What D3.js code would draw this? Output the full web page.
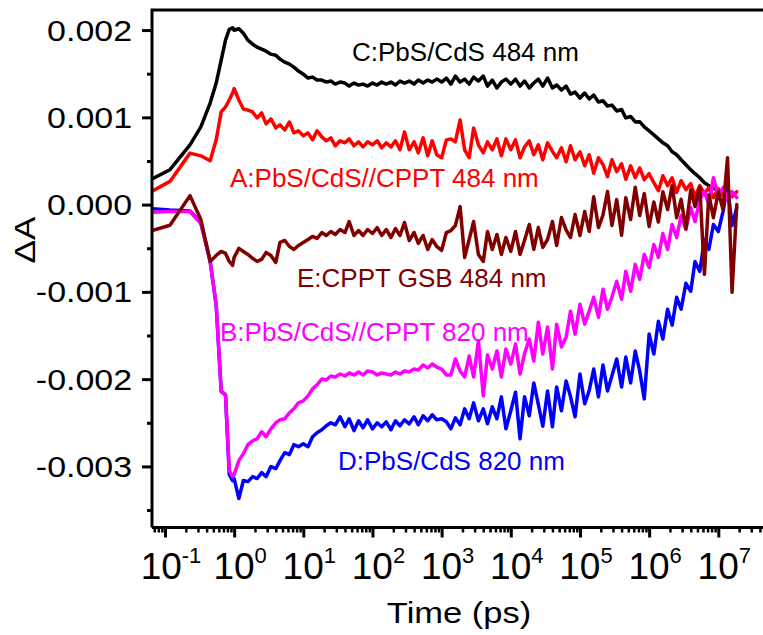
<!DOCTYPE html>
<html><head><meta charset="utf-8">
<script src="https://cdn.jsdelivr.net/npm/d3@7/dist/d3.min.js"></script>
<style>
html,body{margin:0;padding:0;background:#fff;}
svg{display:block;font-family:"Liberation Sans",Arial,sans-serif;}
</style></head>
<body>
<svg id="chart" width="763" height="635"></svg>
<script>
// Time axis (ps)
const times = [0.065,0.118,0.23,0.33,0.45,0.55,0.65,0.75,0.85,0.95,
1,1.17,1.36,1.58,1.85,2.15,2.5,2.9,3.4,4,4.6,5.4,6.3,7.3,8.5,
10,11.7,13.6,15.8,18.5,21.5,25,29,34,40,46,54,63,73,85,
100,117,136,158,185,215,250,290,340,400,460,540,630,730,850,
1000,1170,1360,1580,1850,2150,2500,2900,3400,4000,4600,5400,6300,7300,8500,
1e4,1.17e4,1.36e4,1.58e4,1.85e4,2.15e4,2.5e4,2.9e4,3.4e4,4e4,4.6e4,5.4e4,6.3e4,7.3e4,8.5e4,
1e5,1.17e5,1.36e5,1.58e5,1.85e5,2.15e5,2.5e5,2.9e5,3.4e5,4e5,4.6e5,5.4e5,6.3e5,7.3e5,8.5e5,
1e6,1.17e6,1.36e6,1.58e6,1.85e6,2.15e6,2.5e6,2.9e6,3.4e6,4e6,4.6e6,5.4e6,6.3e6,7.3e6,8.5e6,
1e7,1.17e7,1.36e7,1.58e7,1.85e7];

// C: PbS/CdS 484 nm
const seriesC = [2.93e-4,4.00e-4,6.85e-4,8.90e-4,11.64e-4,13.93e-4,16.55e-4,18.84e-4,20.09e-4,20.26e-4,
19.98e-4,20.15e-4,19.63e-4,18.84e-4,18.38e-4,18.04e-4,17.81e-4,17.58e-4,17.24e-4,17.12e-4,16.67e-4,16.32e-4,16.10e-4,15.75e-4,15.30e-4,
14.95e-4,14.50e-4,14.61e-4,14.27e-4,14.27e-4,14.04e-4,14.16e-4,13.81e-4,14.04e-4,13.93e-4,13.58e-4,13.93e-4,13.70e-4,13.81e-4,13.58e-4,
13.93e-4,13.70e-4,14.04e-4,13.81e-4,14.04e-4,13.70e-4,14.16e-4,13.93e-4,14.16e-4,13.81e-4,14.27e-4,13.93e-4,14.27e-4,14.04e-4,14.38e-4,
14.04e-4,14.50e-4,13.81e-4,14.73e-4,14.04e-4,14.38e-4,13.81e-4,14.61e-4,14.16e-4,14.73e-4,13.58e-4,14.27e-4,13.36e-4,14.04e-4,14.38e-4,
13.81e-4,14.38e-4,13.58e-4,14.16e-4,13.36e-4,13.93e-4,14.38e-4,13.58e-4,14.50e-4,13.36e-4,13.70e-4,13.13e-4,13.58e-4,12.67e-4,12.90e-4,
12.21e-4,12.79e-4,12.10e-4,12.56e-4,11.76e-4,11.90e-4,11.30e-4,11.40e-4,10.73e-4,10.90e-4,9.93e-4,10.10e-4,9.47e-4,9.50e-4,8.90e-4,
8.45e-4,7.99e-4,7.53e-4,7.08e-4,6.74e-4,6.05e-4,5.71e-4,5.14e-4,4.57e-4,4.00e-4,3.54e-4,3.08e-4,2.51e-4,2.17e-4,1.83e-4,
1.71e-4,null,null,null,null];

// A: PbS/CdS//CPPT 484 nm
const seriesA = [1.52e-4,2.66e-4,5.90e-4,5.59e-4,5.02e-4,7.42e-4,10.62e-4,11.19e-4,11.99e-4,12.79e-4,
13.30e-4,11.99e-4,10.96e-4,10.84e-4,10.62e-4,9.93e-4,10.50e-4,9.25e-4,9.82e-4,8.79e-4,9.13e-4,8.56e-4,9.47e-4,8.22e-4,8.45e-4,
7.88e-4,8.22e-4,7.42e-4,8.45e-4,7.76e-4,7.31e-4,7.65e-4,6.74e-4,7.31e-4,7.08e-4,7.53e-4,6.74e-4,7.19e-4,6.62e-4,7.19e-4,
6.85e-4,7.31e-4,6.51e-4,7.08e-4,6.62e-4,7.31e-4,6.28e-4,8.33e-4,6.28e-4,7.19e-4,5.94e-4,7.65e-4,5.59e-4,7.31e-4,5.71e-4,
5.37e-4,7.42e-4,7.53e-4,7.19e-4,9.70e-4,6.28e-4,5.37e-4,8.79e-4,6.85e-4,5.94e-4,7.19e-4,6.28e-4,7.53e-4,5.59e-4,7.53e-4,
6.28e-4,7.42e-4,5.37e-4,6.60e-4,7.31e-4,5.71e-4,6.85e-4,5.14e-4,7.08e-4,6.10e-4,5.37e-4,6.51e-4,4.91e-4,6.74e-4,5.14e-4,
6.05e-4,4.45e-4,5.71e-4,3.60e-4,5.37e-4,4.60e-4,3.20e-4,5.14e-4,3.77e-4,4.68e-4,2.90e-4,4.45e-4,3.08e-4,4.20e-4,2.85e-4,
3.54e-4,2.51e-4,1.60e-4,3.31e-4,2.17e-4,3.08e-4,1.40e-4,2.74e-4,1.71e-4,2.40e-4,0.90e-4,2.17e-4,1.26e-4,1.94e-4,0.80e-4,
1.83e-4,1.03e-4,1.71e-4,0.91e-4,1.48e-4];

// E: CPPT GSB 484 nm
const seriesE = [-2.97e-4,-2.36e-4,1.03e-4,-1.71e-4,-6.51e-4,-5.82e-4,-5.37e-4,-5.59e-4,-6.51e-4,-6.96e-4,
-6.05e-4,-5.02e-4,-5.37e-4,-5.71e-4,-6.16e-4,-6.51e-4,-6.28e-4,-5.48e-4,-5.82e-4,-6.62e-4,-4.34e-4,-4.11e-4,-4.79e-4,-5.14e-4,-4.68e-4,
-4.34e-4,-4.00e-4,-3.65e-4,-3.88e-4,-3.20e-4,-3.54e-4,-3.08e-4,-3.42e-4,-2.85e-4,-3.20e-4,-1.94e-4,-3.54e-4,-2.97e-4,-3.54e-4,-2.85e-4,
-3.31e-4,-2.63e-4,-3.54e-4,-2.85e-4,-3.77e-4,-2.74e-4,-3.54e-4,-2.05e-4,-4.11e-4,-3.20e-4,-4.45e-4,-3.54e-4,-5.14e-4,-4.00e-4,-4.79e-4,
-5.25e-4,-3.20e-4,-2.97e-4,-2.40e-4,-0.23e-4,-6.05e-4,-4.00e-4,-1.94e-4,-5.71e-4,-6.51e-4,-3.08e-4,-5.14e-4,-3.42e-4,-5.71e-4,-3.77e-4,
-5.37e-4,-3.08e-4,-5.71e-4,-4.10e-4,-2.28e-4,-5.14e-4,-2.63e-4,-4.91e-4,-4.00e-4,-1.94e-4,-4.68e-4,-1.48e-4,-2.90e-4,-3.77e-4,-1.14e-4,
-3.54e-4,-0.80e-4,-3.08e-4,0.90e-4,-2.63e-4,-1.20e-4,1.50e-4,-2.40e-4,0.57e-4,-3.50e-4,0.80e-4,-1.71e-4,2.00e-4,-1.26e-4,1.26e-4,
-2.50e-4,0.30e-4,-2.00e-4,1.48e-4,-0.57e-4,2.20e-4,-1.50e-4,0.60e-4,-2.80e-4,1.71e-4,-0.23e-4,2.00e-4,-7.99e-4,1.14e-4,-1.50e-4,
1.48e-4,-0.57e-4,5.37e-4,-10.05e-4,0.00e-4];

// B: PbS/CdS//CPPT 820 nm
const seriesB = [-0.88e-4,-0.80e-4,-0.80e-4,-2.17e-4,-6.51e-4,-11.42e-4,-21.46e-4,-21.80e-4,-30.48e-4,-31.16e-4,
-30.94e-4,-29.34e-4,-28.54e-4,-27.51e-4,-27.06e-4,-26.83e-4,-26.03e-4,-26.60e-4,-25.69e-4,-25.00e-4,-24.66e-4,-24.54e-4,-23.86e-4,-23.40e-4,-22.72e-4,
-22.49e-4,-21.92e-4,-21.12e-4,-20.66e-4,-19.98e-4,-20.09e-4,-19.64e-4,-19.75e-4,-19.41e-4,-19.64e-4,-19.29e-4,-19.52e-4,-19.18e-4,-19.52e-4,-19.06e-4,
-19.18e-4,-19.52e-4,-19.29e-4,-19.41e-4,-19.52e-4,-19.18e-4,-19.41e-4,-19.06e-4,-19.18e-4,-18.84e-4,-18.95e-4,-18.38e-4,-18.72e-4,-18.27e-4,-18.61e-4,
-18.84e-4,-19.52e-4,-19.52e-4,-17.69e-4,-19.06e-4,-19.75e-4,-17.35e-4,-19.75e-4,-15.64e-4,-21.92e-4,-17.24e-4,-18.84e-4,-16.78e-4,-19.75e-4,-16.55e-4,
-18.27e-4,-15.98e-4,-19.41e-4,-17.10e-4,-15.41e-4,-17.92e-4,-13.47e-4,-17.12e-4,-14.04e-4,-18.84e-4,-13.70e-4,-16.32e-4,-15.20e-4,-12.21e-4,-14.84e-4,
-11.42e-4,-13.70e-4,-12.20e-4,-10.62e-4,-12.90e-4,-9.70e-4,-11.99e-4,-10.60e-4,-8.79e-4,-10.85e-4,-7.65e-4,-9.93e-4,-6.85e-4,-8.56e-4,-5.71e-4,
-7.19e-4,-4.57e-4,-6.05e-4,-3.31e-4,-5.14e-4,-2.28e-4,-3.77e-4,-1.26e-4,-2.85e-4,-0.34e-4,-1.94e-4,0.57e-4,1.48e-4,0.00e-4,3.08e-4,
1.03e-4,1.94e-4,0.57e-4,1.48e-4,0.80e-4];

// D: PbS/CdS 820 nm
const seriesD = [-0.46e-4,-0.63e-4,-0.74e-4,-2.05e-4,-6.51e-4,-11.53e-4,-21.35e-4,-21.80e-4,-30.94e-4,-31.62e-4,
-31.39e-4,-33.68e-4,-31.62e-4,-31.74e-4,-31.17e-4,-31.39e-4,-30.71e-4,-31.17e-4,-30.02e-4,-30.25e-4,-29.34e-4,-28.43e-4,-28.65e-4,-27.51e-4,-27.74e-4,
-27.40e-4,-27.74e-4,-26.60e-4,-26.14e-4,-25.80e-4,-25.34e-4,-25.00e-4,-25.23e-4,-24.32e-4,-25.46e-4,-24.54e-4,-25.91e-4,-24.77e-4,-25.57e-4,-24.66e-4,
-25.69e-4,-25.00e-4,-25.46e-4,-24.89e-4,-25.80e-4,-24.77e-4,-25.34e-4,-24.66e-4,-25.12e-4,-24.32e-4,-25.23e-4,-24.20e-4,-24.77e-4,-24.08e-4,-24.66e-4,
-24.54e-4,-24.89e-4,-25.69e-4,-24.43e-4,-25.23e-4,-23.40e-4,-24.54e-4,-22.72e-4,-24.77e-4,-23.40e-4,-25.12e-4,-23.17e-4,-24.54e-4,-22.03e-4,-25.69e-4,
-23.63e-4,-21.50e-4,-26.83e-4,-22.03e-4,-24.20e-4,-20.43e-4,-22.90e-4,-25.40e-4,-21.35e-4,-25.46e-4,-20.89e-4,-23.63e-4,-20.21e-4,-22.00e-4,-24.32e-4,
-19.41e-4,-22.83e-4,-21.30e-4,-18.84e-4,-22.03e-4,-18.38e-4,-21.35e-4,-19.60e-4,-17.69e-4,-20.89e-4,-17.47e-4,-20.43e-4,-16.78e-4,-19.06e-4,-22.26e-4,
-14.84e-4,-17.12e-4,-13.36e-4,-15.41e-4,-11.99e-4,-13.81e-4,-10.62e-4,-11.99e-4,-9.02e-4,-9.93e-4,-6.51e-4,-7.65e-4,-4.00e-4,-5.14e-4,-2.28e-4,
-3.08e-4,-0.80e-4,2.17e-4,-2.40e-4,-0.34e-4];

const seriesNames = ["C:PbS/CdS 484 nm","A:PbS/CdS//CPPT 484 nm","E:CPPT GSB 484 nm","B:PbS/CdS//CPPT 820 nm","D:PbS/CdS 820 nm"];
const seriesColors = ["#000000","#ff0000","#800000","#ff00ff","#0000ff"];
const yTicks = [-0.003,-0.002,-0.001,0.000,0.001,0.002];
const yTickLabels = ["-0.003","-0.002","-0.001","0.000","0.001","0.002"];
const xExponents = [-1,0,1,2,3,4,5,6,7];

const svg = d3.select("#chart");
const L = 152, R = 780, T = 10, B = 527.5;
const x = d3.scaleLog().domain([0.0649, 7.8e7]).range([L, R]);
const y = d3.scaleLinear().domain([-0.0037, 0.00223]).range([B, T]);

svg.append("defs").append("clipPath").attr("id","clip")
  .append("rect").attr("x",L).attr("y",T).attr("width",R-L).attr("height",B-T);

// annotations (drawn beneath data)
const ann = [
  {i:0, x:352, y:61},
  {i:1, x:230, y:187},
  {i:2, x:297, y:287},
  {i:3, x:220, y:341},
  {i:4, x:338, y:470}
];
svg.append("g").selectAll("text").data(ann).join("text")
  .attr("x", d=>d.x).attr("y", d=>d.y)
  .attr("fill", d=>seriesColors[d.i])
  .attr("font-size", 26)
  .text(d=>seriesNames[d.i]);

// data lines
const allSeries = [seriesC, seriesA, seriesD, seriesB, seriesE];
const orderIdx = [0,1,4,3,2];
const line = d3.line().defined(d=>d[1]!==null).x(d=>x(d[0])).y(d=>y(d[1]));
const gL = svg.append("g").attr("clip-path","url(#clip)");
allSeries.forEach((s,k)=>{
  const pts = times.map((t,i)=>[t,s[i]]);
  gL.append("path").datum(pts)
    .attr("fill","none").attr("stroke",seriesColors[orderIdx[k]])
    .attr("stroke-width",3.5).attr("stroke-linejoin","round").attr("stroke-linecap","round")
    .attr("d",line);
});

// axes
const yMinor = d3.range(-0.0035, 0.0021, 0.001);
svg.append("g").attr("transform",`translate(${L},0)`)
  .call(d3.axisLeft(y).tickValues(yTicks).tickSize(10).tickFormat(""))
  .call(g=>{g.select(".domain").remove(); g.selectAll("line").attr("stroke-width",3);});
svg.append("g").attr("transform",`translate(${L},0)`)
  .call(d3.axisLeft(y).tickValues(yMinor).tickSize(5).tickFormat(""))
  .call(g=>{g.select(".domain").remove(); g.selectAll("line").attr("stroke-width",3);});

const majorX = xExponents.map(e=>Math.pow(10,e));
const minorX = [];
for (let e=-2; e<=7; e++) for (let m=2; m<=9; m++){ const v=m*Math.pow(10,e); if (v>=0.0649 && v<=7.8e7) minorX.push(v); }
svg.append("g").attr("transform",`translate(0,${B})`)
  .call(d3.axisBottom(x).tickValues(majorX).tickSize(10).tickFormat(""))
  .call(g=>{g.select(".domain").remove(); g.selectAll("line").attr("stroke-width",3);});
svg.append("g").attr("transform",`translate(0,${B})`)
  .call(d3.axisBottom(x).tickValues(minorX).tickSize(5).tickFormat(""))
  .call(g=>{g.select(".domain").remove(); g.selectAll("line").attr("stroke-width",2.5);});

// frame
svg.append("path").attr("d",`M${L},${B}H${R}M${L},${B}V${T}H${R}`)
  .attr("fill","none").attr("stroke","#000").attr("stroke-width",3);

// y tick labels
svg.append("g").selectAll("text").data(yTicks).join("text")
  .attr("transform",(d)=>`translate(132,${y(d)}) scale(1.17,1)`)
  .attr("text-anchor","end").attr("dy","0.36em")
  .attr("font-size",29)
  .text((d,i)=>yTickLabels[i]);

// x tick labels
const xl = svg.append("g").selectAll("text").data(xExponents).join("text")
  .attr("x", d=>x(Math.pow(10,d))+6).attr("y", 579)
  .attr("text-anchor","middle").attr("font-size",37);
xl.append("tspan").text("10");
xl.append("tspan").attr("font-size",22).attr("dy",-16).text(d=>String(d));

// axis titles
svg.append("text").attr("transform","translate(459,623) scale(1.15,1)")
  .attr("text-anchor","middle").attr("font-size",30).text("Time (ps)");
svg.append("text").attr("transform","translate(35,240) rotate(-90) scale(1.17,1)")
  .attr("text-anchor","middle").attr("font-size",30).text("ΔA");
</script>
</body></html>
